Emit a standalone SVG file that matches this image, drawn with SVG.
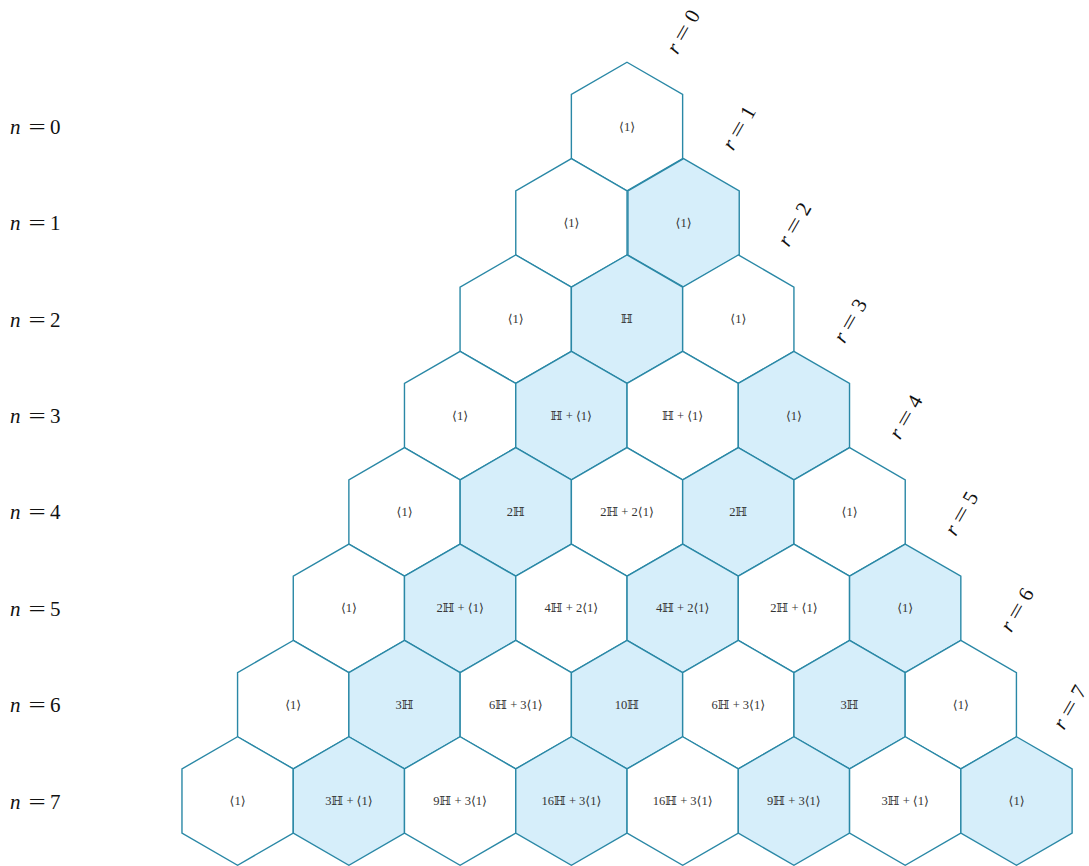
<svg xmlns="http://www.w3.org/2000/svg" xmlns:xlink="http://www.w3.org/1999/xlink" width="1089" height="866" viewBox="0 0 1089 866">
<style>
.hx{fill:#ffffff;stroke:#2a88a6;stroke-width:1.4;stroke-linejoin:miter}
.sh{fill:#d6eefa}
.ct{font-family:"Liberation Serif","DejaVu Serif",serif;font-size:12.5px;fill:#333333;text-anchor:middle}
.lab{font-family:"Liberation Serif","DejaVu Serif",serif;font-size:21px;fill:#111111}
.it{font-style:italic}
.eq{text-anchor:middle}
</style>
<defs>
<polygon id="hex" points="0,-64.24 55.63,-32.12 55.63,32.12 0,64.24 -55.63,32.12 -55.63,-32.12"/>
<g id="eqs"><text class="lab eq" transform="scale(1.45,1)">=</text></g>
</defs>
<rect width="1089" height="866" fill="#ffffff"/>
<g id="connectors"></g>
<g id="cells">
<g id="c0_0" transform="translate(627,126.5)"><use xlink:href="#hex" class="hx"/><text class="ct" y="4">⟨1⟩</text></g>

<g id="c1_0" transform="translate(571.4,222.9)"><use xlink:href="#hex" class="hx"/><text class="ct" y="4">⟨1⟩</text></g>
<g id="c1_1" transform="translate(683.6,222.9)"><use xlink:href="#hex" class="hx sh"/><text class="ct" y="4">⟨1⟩</text></g>

<g id="c2_0" transform="translate(515.7,319.2)"><use xlink:href="#hex" class="hx"/><text class="ct" y="4">⟨1⟩</text></g>
<g id="c2_1" transform="translate(627,319.2)"><use xlink:href="#hex" class="hx sh"/><text class="ct" y="4">ℍ</text></g>
<g id="c2_2" transform="translate(738.3,319.2)"><use xlink:href="#hex" class="hx"/><text class="ct" y="4">⟨1⟩</text></g>

<g id="c3_0" transform="translate(460.1,415.6)"><use xlink:href="#hex" class="hx"/><text class="ct" y="4">⟨1⟩</text></g>
<g id="c3_1" transform="translate(571.4,415.6)"><use xlink:href="#hex" class="hx sh"/><text class="ct" y="4">ℍ + ⟨1⟩</text></g>
<g id="c3_2" transform="translate(682.7,415.6)"><use xlink:href="#hex" class="hx"/><text class="ct" y="4">ℍ + ⟨1⟩</text></g>
<g id="c3_3" transform="translate(793.9,415.6)"><use xlink:href="#hex" class="hx sh"/><text class="ct" y="4">⟨1⟩</text></g>

<g id="c4_0" transform="translate(404.5,511.9)"><use xlink:href="#hex" class="hx"/><text class="ct" y="4">⟨1⟩</text></g>
<g id="c4_1" transform="translate(515.8,511.9)"><use xlink:href="#hex" class="hx sh"/><text class="ct" y="4">2ℍ</text></g>
<g id="c4_2" transform="translate(627,511.9)"><use xlink:href="#hex" class="hx"/><text class="ct" y="4">2ℍ + 2⟨1⟩</text></g>
<g id="c4_3" transform="translate(738.3,511.9)"><use xlink:href="#hex" class="hx sh"/><text class="ct" y="4">2ℍ</text></g>
<g id="c4_4" transform="translate(849.6,511.9)"><use xlink:href="#hex" class="hx"/><text class="ct" y="4">⟨1⟩</text></g>

<g id="c5_0" transform="translate(348.9,608.3)"><use xlink:href="#hex" class="hx"/><text class="ct" y="4">⟨1⟩</text></g>
<g id="c5_1" transform="translate(460.1,608.3)"><use xlink:href="#hex" class="hx sh"/><text class="ct" y="4">2ℍ + ⟨1⟩</text></g>
<g id="c5_2" transform="translate(571.4,608.3)"><use xlink:href="#hex" class="hx"/><text class="ct" y="4">4ℍ + 2⟨1⟩</text></g>
<g id="c5_3" transform="translate(682.7,608.3)"><use xlink:href="#hex" class="hx sh"/><text class="ct" y="4">4ℍ + 2⟨1⟩</text></g>
<g id="c5_4" transform="translate(793.9,608.3)"><use xlink:href="#hex" class="hx"/><text class="ct" y="4">2ℍ + ⟨1⟩</text></g>
<g id="c5_5" transform="translate(905.2,608.3)"><use xlink:href="#hex" class="hx sh"/><text class="ct" y="4">⟨1⟩</text></g>

<g id="c6_0" transform="translate(293.2,704.7)"><use xlink:href="#hex" class="hx"/><text class="ct" y="4">⟨1⟩</text></g>
<g id="c6_1" transform="translate(404.5,704.7)"><use xlink:href="#hex" class="hx sh"/><text class="ct" y="4">3ℍ</text></g>
<g id="c6_2" transform="translate(515.8,704.7)"><use xlink:href="#hex" class="hx"/><text class="ct" y="4">6ℍ + 3⟨1⟩</text></g>
<g id="c6_3" transform="translate(627,704.7)"><use xlink:href="#hex" class="hx sh"/><text class="ct" y="4">10ℍ</text></g>
<g id="c6_4" transform="translate(738.3,704.7)"><use xlink:href="#hex" class="hx"/><text class="ct" y="4">6ℍ + 3⟨1⟩</text></g>
<g id="c6_5" transform="translate(849.6,704.7)"><use xlink:href="#hex" class="hx sh"/><text class="ct" y="4">3ℍ</text></g>
<g id="c6_6" transform="translate(960.8,704.7)"><use xlink:href="#hex" class="hx"/><text class="ct" y="4">⟨1⟩</text></g>

<g id="c7_0" transform="translate(237.6,801)"><use xlink:href="#hex" class="hx"/><text class="ct" y="4">⟨1⟩</text></g>
<g id="c7_1" transform="translate(348.9,801)"><use xlink:href="#hex" class="hx sh"/><text class="ct" y="4">3ℍ + ⟨1⟩</text></g>
<g id="c7_2" transform="translate(460.1,801)"><use xlink:href="#hex" class="hx"/><text class="ct" y="4">9ℍ + 3⟨1⟩</text></g>
<g id="c7_3" transform="translate(571.4,801)"><use xlink:href="#hex" class="hx sh"/><text class="ct" y="4">16ℍ + 3⟨1⟩</text></g>
<g id="c7_4" transform="translate(682.7,801)"><use xlink:href="#hex" class="hx"/><text class="ct" y="4">16ℍ + 3⟨1⟩</text></g>
<g id="c7_5" transform="translate(793.9,801)"><use xlink:href="#hex" class="hx sh"/><text class="ct" y="4">9ℍ + 3⟨1⟩</text></g>
<g id="c7_6" transform="translate(905.2,801)"><use xlink:href="#hex" class="hx"/><text class="ct" y="4">3ℍ + ⟨1⟩</text></g>
<g id="c7_7" transform="translate(1016.5,801)"><use xlink:href="#hex" class="hx sh"/><text class="ct" y="4">⟨1⟩</text></g>
</g>
<g id="row-labels">
<g id="n0" transform="translate(0,134)"><text class="lab it" x="10">n</text><use xlink:href="#eqs" transform="translate(37,0)"/><text class="lab" x="50">0</text></g>
<g id="n1" transform="translate(0,230.4)"><text class="lab it" x="10">n</text><use xlink:href="#eqs" transform="translate(37,0)"/><text class="lab" x="50">1</text></g>
<g id="n2" transform="translate(0,326.7)"><text class="lab it" x="10">n</text><use xlink:href="#eqs" transform="translate(37,0)"/><text class="lab" x="50">2</text></g>
<g id="n3" transform="translate(0,423.1)"><text class="lab it" x="10">n</text><use xlink:href="#eqs" transform="translate(37,0)"/><text class="lab" x="50">3</text></g>
<g id="n4" transform="translate(0,519.4)"><text class="lab it" x="10">n</text><use xlink:href="#eqs" transform="translate(37,0)"/><text class="lab" x="50">4</text></g>
<g id="n5" transform="translate(0,615.8)"><text class="lab it" x="10">n</text><use xlink:href="#eqs" transform="translate(37,0)"/><text class="lab" x="50">5</text></g>
<g id="n6" transform="translate(0,712.2)"><text class="lab it" x="10">n</text><use xlink:href="#eqs" transform="translate(37,0)"/><text class="lab" x="50">6</text></g>
<g id="n7" transform="translate(0,808.5)"><text class="lab it" x="10">n</text><use xlink:href="#eqs" transform="translate(37,0)"/><text class="lab" x="50">7</text></g>
</g>
<g id="diag-labels">
<g id="r0" transform="translate(684,30) rotate(-60) translate(0,7)"><text class="lab it" x="-25">r</text><use xlink:href="#eqs" transform="translate(-3,0)"/><text class="lab" x="11">0</text></g>
<g id="r1" transform="translate(739.6,126.4) rotate(-60) translate(0,7)"><text class="lab it" x="-25">r</text><use xlink:href="#eqs" transform="translate(-3,0)"/><text class="lab" x="11">1</text></g>
<g id="r2" transform="translate(795.3,222.7) rotate(-60) translate(0,7)"><text class="lab it" x="-25">r</text><use xlink:href="#eqs" transform="translate(-3,0)"/><text class="lab" x="11">2</text></g>
<g id="r3" transform="translate(850.9,319.1) rotate(-60) translate(0,7)"><text class="lab it" x="-25">r</text><use xlink:href="#eqs" transform="translate(-3,0)"/><text class="lab" x="11">3</text></g>
<g id="r4" transform="translate(906.5,415.4) rotate(-60) translate(0,7)"><text class="lab it" x="-25">r</text><use xlink:href="#eqs" transform="translate(-3,0)"/><text class="lab" x="11">4</text></g>
<g id="r5" transform="translate(962.2,511.8) rotate(-60) translate(0,7)"><text class="lab it" x="-25">r</text><use xlink:href="#eqs" transform="translate(-3,0)"/><text class="lab" x="11">5</text></g>
<g id="r6" transform="translate(1017.8,608.2) rotate(-60) translate(0,7)"><text class="lab it" x="-25">r</text><use xlink:href="#eqs" transform="translate(-3,0)"/><text class="lab" x="11">6</text></g>
<g id="r7" transform="translate(1070.5,705.5) rotate(-60) translate(0,7)"><text class="lab it" x="-25">r</text><use xlink:href="#eqs" transform="translate(-3,0)"/><text class="lab" x="11">7</text></g>
</g>
</svg>
